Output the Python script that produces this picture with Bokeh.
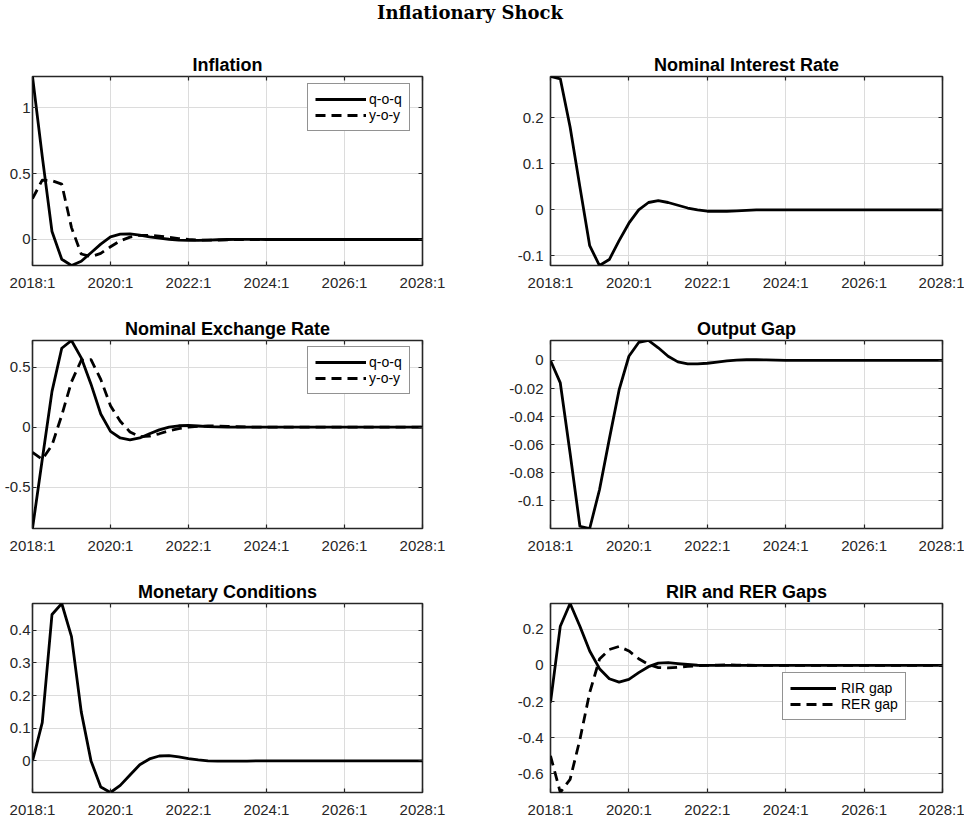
from bokeh.embed import file_html
from bokeh.layouts import column, gridplot
from bokeh.models import (ColumnDataSource, FixedTicker, Label, Legend,
                          LegendItem, LinearAxis, Range1d)
from bokeh.plotting import figure
from bokeh.resources import INLINE

# quarters 2018:1 .. 2028:1
QUARTERS = list(range(41))
X_TICKS = [0, 8, 16, 24, 32, 40]
X_TICK_LABELS = ["2018:1", "2020:1", "2022:1", "2024:1", "2026:1", "2028:1"]

ZEROS = [0.0] * 16

INFL_QOQ = [1.235, 0.63, 0.06, -0.15, -0.197, -0.165, -0.10, -0.035, 0.02,
            0.04, 0.042, 0.033, 0.02, 0.01, 0.002, -0.004, -0.006, -0.006,
            -0.004, -0.002, 0.0, 0.001, 0.001, 0.001, 0.0] + ZEROS
INFL_YOY = [0.31, 0.45, 0.445, 0.42, 0.09, -0.11, -0.13, -0.105, -0.055,
            -0.01, 0.018, 0.032, 0.032, 0.026, 0.016, 0.007, 0.0, -0.004,
            -0.005, -0.005, -0.003, -0.001, 0.0, 0.0, 0.0] + ZEROS

NOM_RATE = [0.29, 0.285, 0.18, 0.05, -0.078, -0.121, -0.108, -0.067, -0.029,
            0.0, 0.016, 0.02, 0.016, 0.01, 0.004, 0.0, -0.003, -0.003,
            -0.003, -0.002, -0.001, 0.0, 0.0, 0.0, 0.0] + ZEROS

NER_QOQ = [-0.847, -0.27, 0.30, 0.66, 0.725, 0.58, 0.36, 0.11, -0.035,
           -0.09, -0.105, -0.09, -0.055, -0.022, 0.0, 0.012, 0.015, 0.01,
           0.005, 0.002, 0.0, 0.0, 0.0, 0.0, 0.0] + ZEROS
NER_YOY = [-0.21, -0.27, -0.15, 0.10, 0.38, 0.56, 0.565, 0.40, 0.18, 0.05,
           -0.04, -0.08, -0.075, -0.055, -0.03, -0.012, 0.0, 0.008, 0.011,
           0.01, 0.007, 0.004, 0.002, 0.0, 0.0] + ZEROS

OUTPUT_GAP = [0.0, -0.016, -0.066, -0.118, -0.1196, -0.092, -0.056, -0.021,
              0.003, 0.0128, 0.0142, 0.009, 0.003, -0.001, -0.0024, -0.0025,
              -0.002, -0.0012, -0.0003, 0.0003, 0.0005, 0.0005, 0.0004,
              0.0002, 0.0001] + ZEROS

MCI = [0.0, 0.117, 0.448, 0.4815, 0.38, 0.15, 0.0, -0.08, -0.0967, -0.075,
       -0.043, -0.012, 0.006, 0.015, 0.016, 0.012, 0.007, 0.003, 0.0,
       -0.001, -0.001, -0.001, -0.0005, 0.0, 0.0] + ZEROS

RIR_GAP = [-0.206, 0.217, 0.3425, 0.217, 0.08, -0.018, -0.074, -0.092,
           -0.077, -0.04, -0.007, 0.013, 0.016, 0.01, 0.005, 0.001, 0.0,
           0.0, 0.0, 0.0, 0.0, 0.0, 0.0, 0.0, 0.0] + ZEROS
RER_GAP = [-0.50, -0.703, -0.63, -0.41, -0.15, 0.035, 0.088, 0.105, 0.08,
           0.037, 0.005, -0.012, -0.014, -0.01, -0.005, -0.002, 0.0, 0.002,
           0.003, 0.002, 0.001, 0.0, 0.0, 0.0, 0.0] + ZEROS

Y_TICKS = {
    "infl": ([0, 0.5, 1], ["0", "0.5", "1"]),
    "rate": ([-0.1, 0, 0.1, 0.2], ["-0.1", "0", "0.1", "0.2"]),
    "ner": ([-0.5, 0, 0.5], ["-0.5", "0", "0.5"]),
    "gap": ([-0.1, -0.08, -0.06, -0.04, -0.02, 0],
            ["-0.1", "-0.08", "-0.06", "-0.04", "-0.02", "0"]),
    "mci": ([0, 0.1, 0.2, 0.3, 0.4], ["0", "0.1", "0.2", "0.3", "0.4"]),
    "gaps": ([-0.6, -0.4, -0.2, 0, 0.2], ["-0.6", "-0.4", "-0.2", "0", "0.2"]),
}

FONT = "Liberation Sans"
FRAME_COLOR = "#262626"
GRID_COLOR = "#dcdcdc"

# (min_border_left, frame_width, min_border_right, y label standoff)
COLS = [(32, 390, 60, 2), (68, 392, 22, 7)]
# (min_border_top, frame_height, min_border_bottom)
ROWS = [(37, 189, 45), (30, 188, 45), (30, 189, 25)]


def hide_labels(axis, ticks):
    axis.major_label_overrides = {t: "" for t in ticks}
    axis.major_label_text_font_size = "0px"
    axis.major_label_standoff = 0


def make_panel(title, series, ticks_key, row, col):
    """ One MATLAB-like subplot: boxed frame, inside ticks, light grid """
    left, fw, right, ystand = COLS[col]
    top, fh, bottom = ROWS[row]
    values = [v for _, vals, _ in series for v in vals]
    yticks, ylabels = Y_TICKS[ticks_key]

    p = figure(frame_width=fw, frame_height=fh,
               x_range=Range1d(0, QUARTERS[-1]),
               y_range=Range1d(min(values), max(values)),
               min_border_left=left, min_border_right=right,
               min_border_top=top, min_border_bottom=bottom,
               output_backend="svg", toolbar_location=None,
               background_fill_color="white", border_fill_color="white")

    p.title.text = title
    p.title.text_font = FONT
    p.title.text_font_size = "18px"
    p.title.text_font_style = "bold"
    p.title.text_color = "black"
    p.title.align = "center"
    p.title.standoff = 4

    xt = FixedTicker(ticks=X_TICKS)
    yt = FixedTicker(ticks=yticks)
    bottom_axis = p.below[0]
    left_axis = p.left[0]
    bottom_axis.ticker = xt
    left_axis.ticker = yt
    p.xgrid.ticker = xt
    p.ygrid.ticker = yt
    bottom_axis.major_label_overrides = dict(zip(X_TICKS, X_TICK_LABELS))
    left_axis.major_label_overrides = dict(zip(yticks, ylabels))
    bottom_axis.major_label_standoff = 8
    left_axis.major_label_standoff = ystand

    top_axis = LinearAxis(ticker=xt)
    right_axis = LinearAxis(ticker=yt)
    hide_labels(top_axis, X_TICKS)
    hide_labels(right_axis, yticks)
    p.add_layout(top_axis, "above")
    p.add_layout(right_axis, "right")

    for ax in (bottom_axis, left_axis, top_axis, right_axis):
        ax.axis_line_color = None
        ax.major_tick_in = 4
        ax.major_tick_out = 0
        ax.major_tick_line_color = FRAME_COLOR
        ax.major_tick_line_width = 1.2
        ax.minor_tick_line_color = None
        ax.major_label_text_font = FONT
        ax.major_label_text_color = FRAME_COLOR
    bottom_axis.major_label_text_font_size = "15px"
    left_axis.major_label_text_font_size = "15px"

    p.grid.grid_line_color = GRID_COLOR
    p.grid.grid_line_width = 1
    p.outline_line_color = FRAME_COLOR
    p.outline_line_width = 1.6

    source = ColumnDataSource(
        data={"q": QUARTERS, **{name: vals for name, vals, _ in series}})
    renderers = []
    for name, _, dash in series:
        r = p.line("q", name, source=source, line_color="black",
                   line_width=2.8, line_dash=dash, line_join="round")
        renderers.append((name, r))
    return p, renderers


def add_legend(p, renderers, location, glyph_width, standoff):
    legend = Legend(items=[LegendItem(label=name, renderers=[r])
                           for name, r in renderers],
                    location=location, margin=0, padding=7, spacing=0,
                    glyph_width=glyph_width, glyph_height=16,
                    label_height=16, label_standoff=standoff,
                    label_text_font=FONT, label_text_font_size="14px",
                    label_text_color="black",
                    border_line_color=FRAME_COLOR, border_line_width=1.5,
                    background_fill_color="white", background_fill_alpha=1)
    p.add_layout(legend)


p1, r1 = make_panel("Inflation", [("q-o-q", INFL_QOQ, "solid"),
                                  ("y-o-y", INFL_YOY, "10 6")], "infl", 0, 0)
add_legend(p1, r1, (275, 134), 51, 3)

p2, _ = make_panel("Nominal Interest Rate",
                   [("rate", NOM_RATE, "solid")], "rate", 0, 1)

p3, r3 = make_panel("Nominal Exchange Rate", [("q-o-q", NER_QOQ, "solid"),
                                              ("y-o-y", NER_YOY, "10 6")],
                    "ner", 1, 0)
add_legend(p3, r3, (275, 134), 51, 3)

p4, _ = make_panel("Output Gap", [("gap", OUTPUT_GAP, "solid")], "gap", 1, 1)

p5, _ = make_panel("Monetary Conditions", [("mci", MCI, "solid")],
                   "mci", 2, 0)

p6, r6 = make_panel("RIR and RER Gaps", [("RIR gap", RIR_GAP, "solid"),
                                         ("RER gap", RER_GAP, "10 6")],
                    "gaps", 2, 1)
add_legend(p6, r6, (232, 72), 46, 5)

# overall heading
head = figure(width=960, height=39, x_range=Range1d(0, 1),
              y_range=Range1d(0, 1), x_axis_location=None,
              y_axis_location=None, min_border=0, outline_line_color=None,
              output_backend="svg", toolbar_location=None)
head.grid.visible = False
head.add_layout(Label(x=469.5, y=27, x_units="screen", y_units="screen",
                      text="Inflationary Shock", text_font="DejaVu Serif",
                      text_font_style="bold", text_font_size="18px",
                      text_color="black", text_align="center",
                      text_baseline="alphabetic"))

grid = gridplot([[p1, p2], [p3, p4], [p5, p6]], toolbar_location=None)
layout = column(head, grid)

open("out.html", "w").write(file_html(layout, INLINE))
